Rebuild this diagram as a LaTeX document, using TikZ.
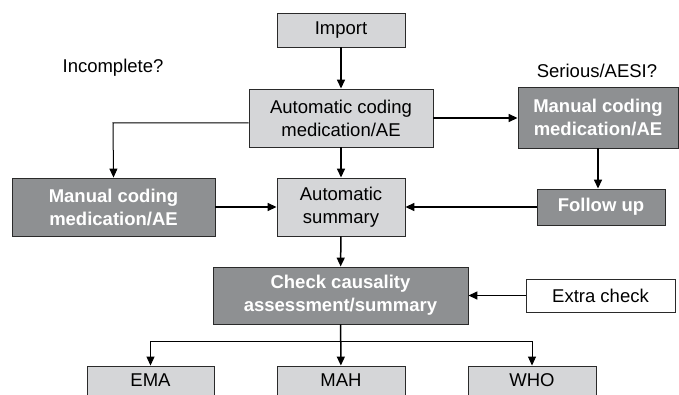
\documentclass[tikz,border=0pt]{standalone}
\usepackage{fontspec}
\setmainfont{Liberation Sans}
\usetikzlibrary{arrows.meta}
\definecolor{lightbox}{HTML}{D5D6D8}
\definecolor{darkbox}{HTML}{8E9092}
\definecolor{edgecol}{HTML}{2A2A2A}
\begin{document}
\begin{tikzpicture}[x=1pt,y=-1pt,
  every node/.style={font=\fontsize{18.5}{23}\selectfont, align=center, inner sep=0pt},
  lightnode/.style={draw=edgecol, line width=0.9pt, fill=lightbox, text=black},
  darknode/.style={draw=edgecol, line width=0.9pt, fill=darkbox, text=white, font=\fontsize{18.5}{23}\selectfont\bfseries},
  whitenode/.style={draw=edgecol, line width=0.9pt, fill=white, text=black},
  conn/.style={line width=1.5pt, draw=black, -{Triangle[length=9pt,width=8pt]}},
  thinconn/.style={line width=1pt, draw=black, -{Triangle[length=9pt,width=8pt]}},
  thinline/.style={line width=1pt, draw=black}]
\useasboundingbox (0,0) rectangle (679,395);
\fill[white] (0,0) rectangle (679,395);

\node[lightnode, minimum width=128pt, minimum height=34pt] (import) at (341,30) {Import};
\node[lightnode, minimum width=184pt, minimum height=58pt] (autocode) at (341,118) {Automatic coding\\medication/AE};
\node[darknode, minimum width=160pt, minimum height=61pt] (manR) at (598,117.5) {Manual coding\\medication/AE};
\node[darknode, minimum width=128pt, minimum height=36pt] (follow) at (601,207) {Follow up};
\node[darknode, minimum width=203pt, minimum height=58pt] (manL) at (113.5,207) {Manual coding\\medication/AE};
\node[lightnode, minimum width=128pt, minimum height=58pt] (summary) at (341,207) {Automatic\\summary};
\node[darknode, minimum width=255pt, minimum height=57pt] (check) at (340.5,295.5) {Check causality\\assessment/summary};
\node[whitenode, minimum width=149pt, minimum height=33pt] (extra) at (600.5,295.5) {Extra check};
\node[lightnode, minimum width=127pt, minimum height=50pt, text depth=0pt] (ema) at (150.5,391) {\raisebox{22pt}{EMA}};
\node[lightnode, minimum width=128pt, minimum height=50pt] (mah) at (341,391) {\raisebox{22pt}{MAH}};
\node[lightnode, minimum width=128pt, minimum height=50pt] (who) at (532,391) {\raisebox{22pt}{WHO}};

\node (incomplete) at (113,68) {Incomplete?};
\node (serious) at (597,71) {Serious/AESI?};

\coordinate (lbend) at (113,123);
\coordinate (split) at (341,341);
\coordinate (splitL) at (150.5,341);
\coordinate (splitR) at (532,341);

\draw[conn] (import) -- (autocode);
\draw[conn] (autocode) -- (summary);
\draw[conn] (autocode.east) -- (manR.west |- autocode.east);
\draw[thinconn] ([yshift=-5pt]autocode.west) -- (lbend) -- (manL.north);
\draw[conn] (manR) -- (follow.north -| manR.south);
\draw[conn] (manL) -- (summary);
\draw[conn] (follow) -- (summary);
\draw[conn] (summary) -- (check);
\draw[conn] (extra) -- (check);
\draw[conn] (check) -- (mah);
\draw[thinline] (splitL) -- (splitR);
\draw[thinconn] (splitL) -- (ema.north);
\draw[thinconn] (splitR) -- (who.north);
\end{tikzpicture}
\end{document}
